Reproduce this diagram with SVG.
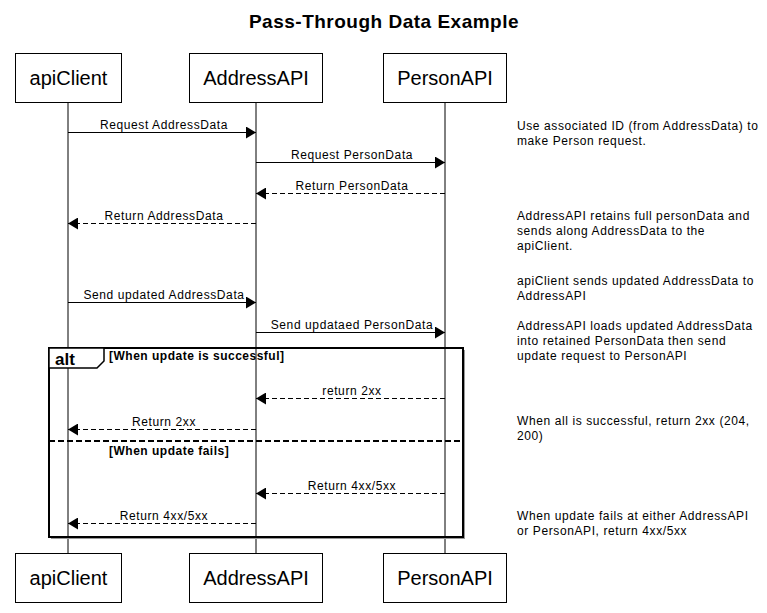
<svg xmlns="http://www.w3.org/2000/svg" width="767" height="613" viewBox="0 0 767 613">
<style>
text{font-family:"Liberation Sans",Arial,sans-serif;fill:#000}
.title{font-size:19px;font-weight:bold;text-anchor:middle;letter-spacing:0.5px}
.pbox{fill:#fff;stroke:#000;stroke-width:1}
.plab{font-size:20px;text-anchor:middle}
.life{stroke:#000;stroke-width:1}
.msg{stroke:#000;stroke-width:1;fill:none}
.dash{stroke-dasharray:5,3}
.ml{font-size:12px;text-anchor:middle;letter-spacing:0.6px}
.note{font-size:12px;letter-spacing:0.6px}
.frame{fill:none;stroke:#000;stroke-width:2}
.guard{font-size:12px;font-weight:bold;letter-spacing:0.5px}
</style>
<defs>
<marker id="ah" viewBox="0 0 10 12" refX="10" refY="6" markerWidth="10" markerHeight="12" markerUnits="userSpaceOnUse" orient="auto">
<path d="M0,0 L10,6 L0,12 Z" fill="#000"/>
</marker>
</defs>
<rect width="767" height="613" fill="#fff"/>
<text class="title" x="384" y="28">Pass-Through Data Example</text>

<g id="lifelines">
<line class="life" x1="68" y1="102" x2="68" y2="553"/>
<line class="life" x1="256" y1="102" x2="256" y2="553"/>
<line class="life" x1="445" y1="102" x2="445" y2="553"/>
</g>

<g id="alt-frame">
<line x1="51" y1="538.5" x2="465" y2="538.5" stroke="#999" stroke-width="1"/>
<line x1="464.5" y1="350" x2="464.5" y2="539" stroke="#999" stroke-width="1"/>
<rect class="frame" x="49" y="348" width="414" height="189"/>
<path d="M49,348 H104 V361 L97,368 H49 Z" fill="#fff" stroke="#000" stroke-width="1.5"/>
<text x="55" y="365" style="font-size:17px;font-weight:bold">alt</text>
<text class="guard" x="109" y="360">[When update is successful]</text>
<line x1="49" y1="441" x2="463" y2="441" stroke="#000" stroke-width="2" stroke-dasharray="6,3"/>
<text class="guard" x="109" y="455">[When update fails]</text>
</g>

<g id="apiClient-top"><rect class="pbox" x="15.5" y="53.5" width="106" height="49"/><text class="plab" x="68.5" y="85">apiClient</text></g>
<g id="AddressAPI-top"><rect class="pbox" x="189.5" y="53.5" width="133" height="49"/><text class="plab" x="256" y="85">AddressAPI</text></g>
<g id="PersonAPI-top"><rect class="pbox" x="383.5" y="53.5" width="123" height="49"/><text class="plab" x="445" y="85">PersonAPI</text></g>
<g id="apiClient-bottom"><rect class="pbox" x="15.5" y="553.5" width="106" height="49"/><text class="plab" x="68.5" y="585">apiClient</text></g>
<g id="AddressAPI-bottom"><rect class="pbox" x="189.5" y="553.5" width="133" height="49"/><text class="plab" x="256" y="585">AddressAPI</text></g>
<g id="PersonAPI-bottom"><rect class="pbox" x="383.5" y="553.5" width="123" height="49"/><text class="plab" x="445" y="585">PersonAPI</text></g>

<g id="connectors">
<line class="msg" x1="68" y1="132.5" x2="256" y2="132.5" marker-end="url(#ah)"/>
<text class="ml" x="164" y="129">Request AddressData</text>
<line class="msg" x1="256" y1="162.5" x2="445" y2="162.5" marker-end="url(#ah)"/>
<text class="ml" x="352" y="159">Request PersonData</text>
<line class="msg dash" x1="445" y1="193.5" x2="256" y2="193.5" marker-end="url(#ah)"/>
<text class="ml" x="352" y="190">Return PersonData</text>
<line class="msg dash" x1="256" y1="223.5" x2="68" y2="223.5" marker-end="url(#ah)"/>
<text class="ml" x="164" y="220">Return AddressData</text>
<line class="msg" x1="68" y1="302.5" x2="256" y2="302.5" marker-end="url(#ah)"/>
<text class="ml" x="164" y="299">Send updated AddressData</text>
<line class="msg" x1="256" y1="332.5" x2="445" y2="332.5" marker-end="url(#ah)"/>
<text class="ml" x="352" y="329">Send updataed PersonData</text>
<line class="msg dash" x1="445" y1="398.5" x2="256" y2="398.5" marker-end="url(#ah)"/>
<text class="ml" x="352" y="395">return 2xx</text>
<line class="msg dash" x1="256" y1="429.5" x2="68" y2="429.5" marker-end="url(#ah)"/>
<text class="ml" x="164" y="426">Return 2xx</text>
<line class="msg dash" x1="445" y1="493.5" x2="256" y2="493.5" marker-end="url(#ah)"/>
<text class="ml" x="352" y="490">Return 4xx/5xx</text>
<line class="msg dash" x1="256" y1="523.5" x2="68" y2="523.5" marker-end="url(#ah)"/>
<text class="ml" x="164" y="520">Return 4xx/5xx</text>
</g>

<g id="notes">
<text class="note" x="517" y="130">Use associated ID (from AddressData) to</text>
<text class="note" x="517" y="145">make Person request.</text>
<text class="note" x="517" y="220">AddressAPI retains full personData and</text>
<text class="note" x="517" y="235">sends along AddressData to the</text>
<text class="note" x="517" y="250">apiClient.</text>
<text class="note" x="517" y="285">apiClient sends updated AddressData to</text>
<text class="note" x="517" y="300">AddressAPI</text>
<text class="note" x="517" y="330">AddressAPI loads updated AddressData</text>
<text class="note" x="517" y="345">into retained PersonData then send</text>
<text class="note" x="517" y="360">update request to PersonAPI</text>
<text class="note" x="517" y="425">When all is successful, return 2xx (204,</text>
<text class="note" x="517" y="440">200)</text>
<text class="note" x="517" y="520">When update fails at either AddressAPI</text>
<text class="note" x="517" y="535">or PersonAPI, return 4xx/5xx</text>
</g>
</svg>
